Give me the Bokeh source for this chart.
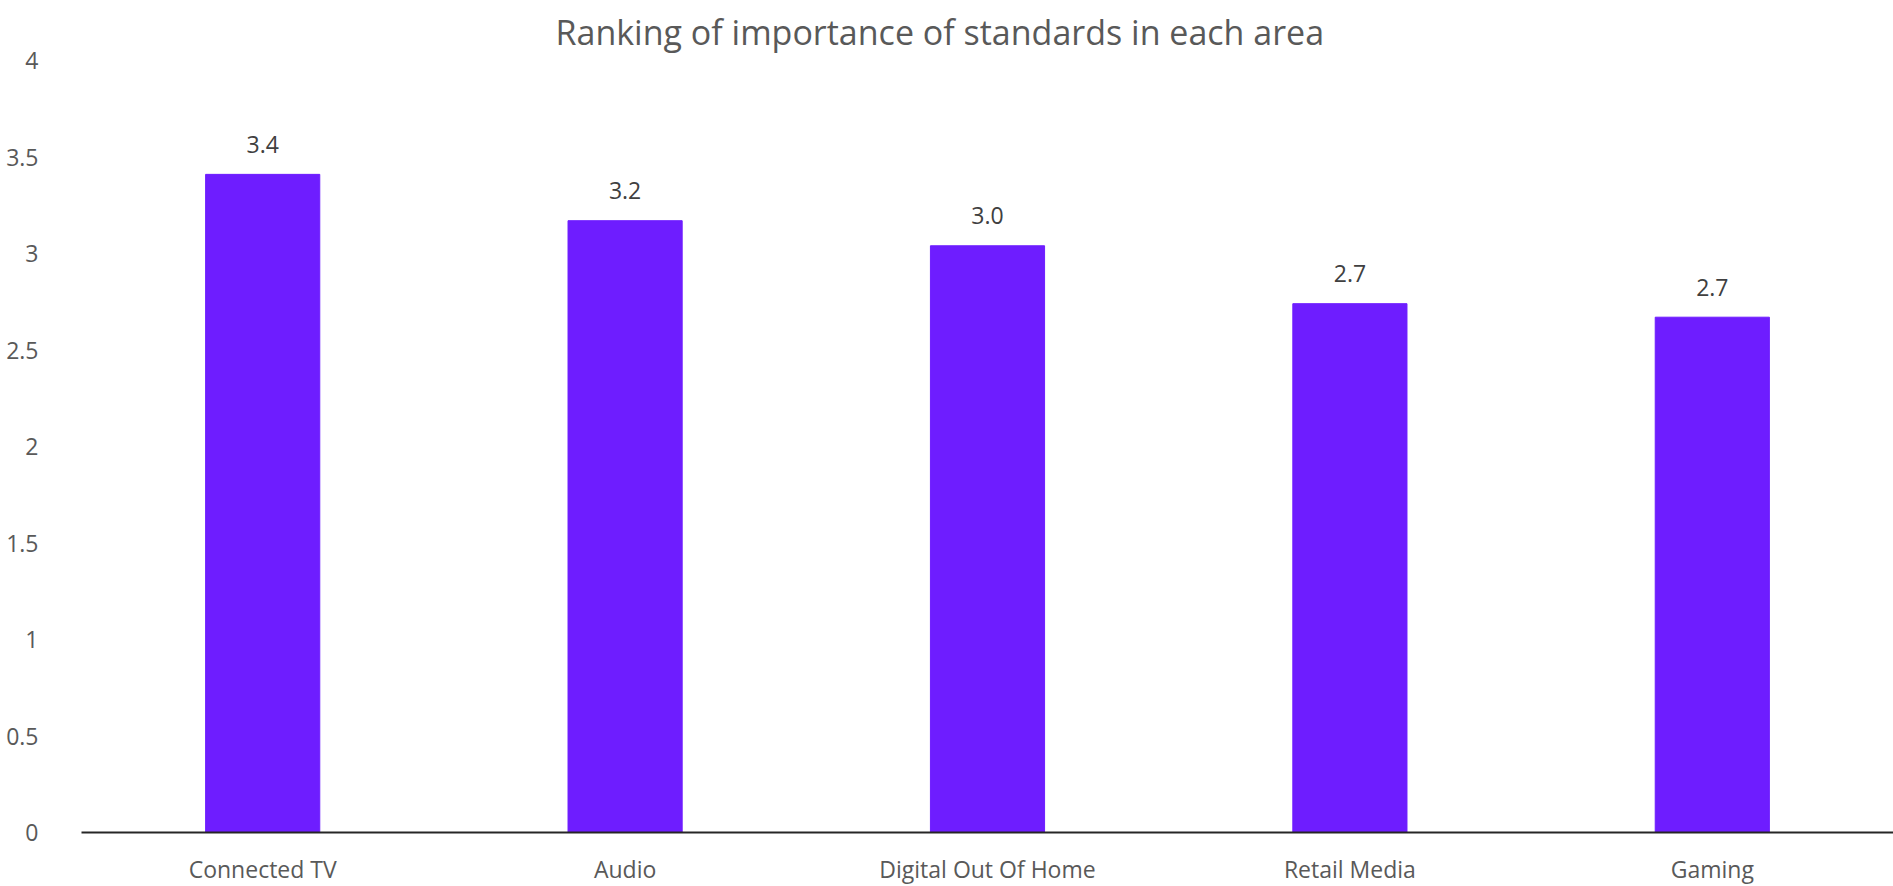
from bokeh.plotting import figure
from bokeh.models import ColumnDataSource, Range1d, FixedTicker
from bokeh.core.properties import value
from bokeh.embed import file_html
from bokeh.resources import INLINE

title_text = "Ranking of importance of standards in each area"
categories = ["Connected TV", "Audio", "Digital Out Of Home", "Retail Media", "Gaming"]
scores = [3.41, 3.17, 3.04, 2.74, 2.67]
score_labels = ["3.4", "3.2", "3.0", "2.7", "2.7"]
y_ticks = [0, 0.5, 1, 1.5, 2, 2.5, 3, 3.5, 4]

FONT = "Open Sans"
src = ColumnDataSource(dict(cat=categories, val=scores, lab=score_labels))

p = figure(x_range=categories, y_range=Range1d(0, 4),
           frame_width=1812, frame_height=772,
           min_border_left=81, min_border_right=0, min_border_top=60, min_border_bottom=50,
           output_backend="svg", toolbar_location=None, title=title_text)
p.title.align = "left"
p.title.offset = 474
p.title.standoff = 8
p.title.vertical_align = "top"
p.title.text_font = FONT
p.title.text_font_size = "34px"
p.title.text_font_style = "normal"
p.title.text_color = "#595959"

p.vbar(x="cat", top="val", width=0.315, source=src, color="#6E1DFF")
p.text(x="cat", y="val", text="lab", source=src, text_align="center",
       text_baseline="alphabetic", y_offset=-30, text_font=value(FONT),
       text_font_size="23px", text_color="#404040")

p.xgrid.grid_line_color = None
p.ygrid.grid_line_color = None
p.outline_line_color = None

p.yaxis.ticker = FixedTicker(ticks=y_ticks)
p.yaxis.major_label_overrides = {0: "0", 0.5: "0.5", 1: "1", 1.5: "1.5", 2: "2",
                                 2.5: "2.5", 3: "3", 3.5: "3.5", 4: "4"}
p.yaxis.axis_line_color = None
p.yaxis.major_tick_line_color = None
p.yaxis.minor_tick_line_color = None
p.yaxis.major_label_standoff = 37
p.yaxis.major_label_text_font = FONT
p.yaxis.major_label_text_font_size = "23px"
p.yaxis.major_label_text_color = "#595959"

p.xaxis.axis_line_color = "#262626"
p.xaxis.axis_line_width = 2
p.xaxis.major_tick_line_color = None
p.xaxis.major_tick_out = 0
p.xaxis.major_tick_in = 0
p.xaxis.major_label_standoff = 20
p.xaxis.major_label_text_font = FONT
p.xaxis.major_label_text_font_size = "23px"
p.xaxis.major_label_text_color = "#595959"

open("out.html", "w").write(file_html(p, INLINE))
